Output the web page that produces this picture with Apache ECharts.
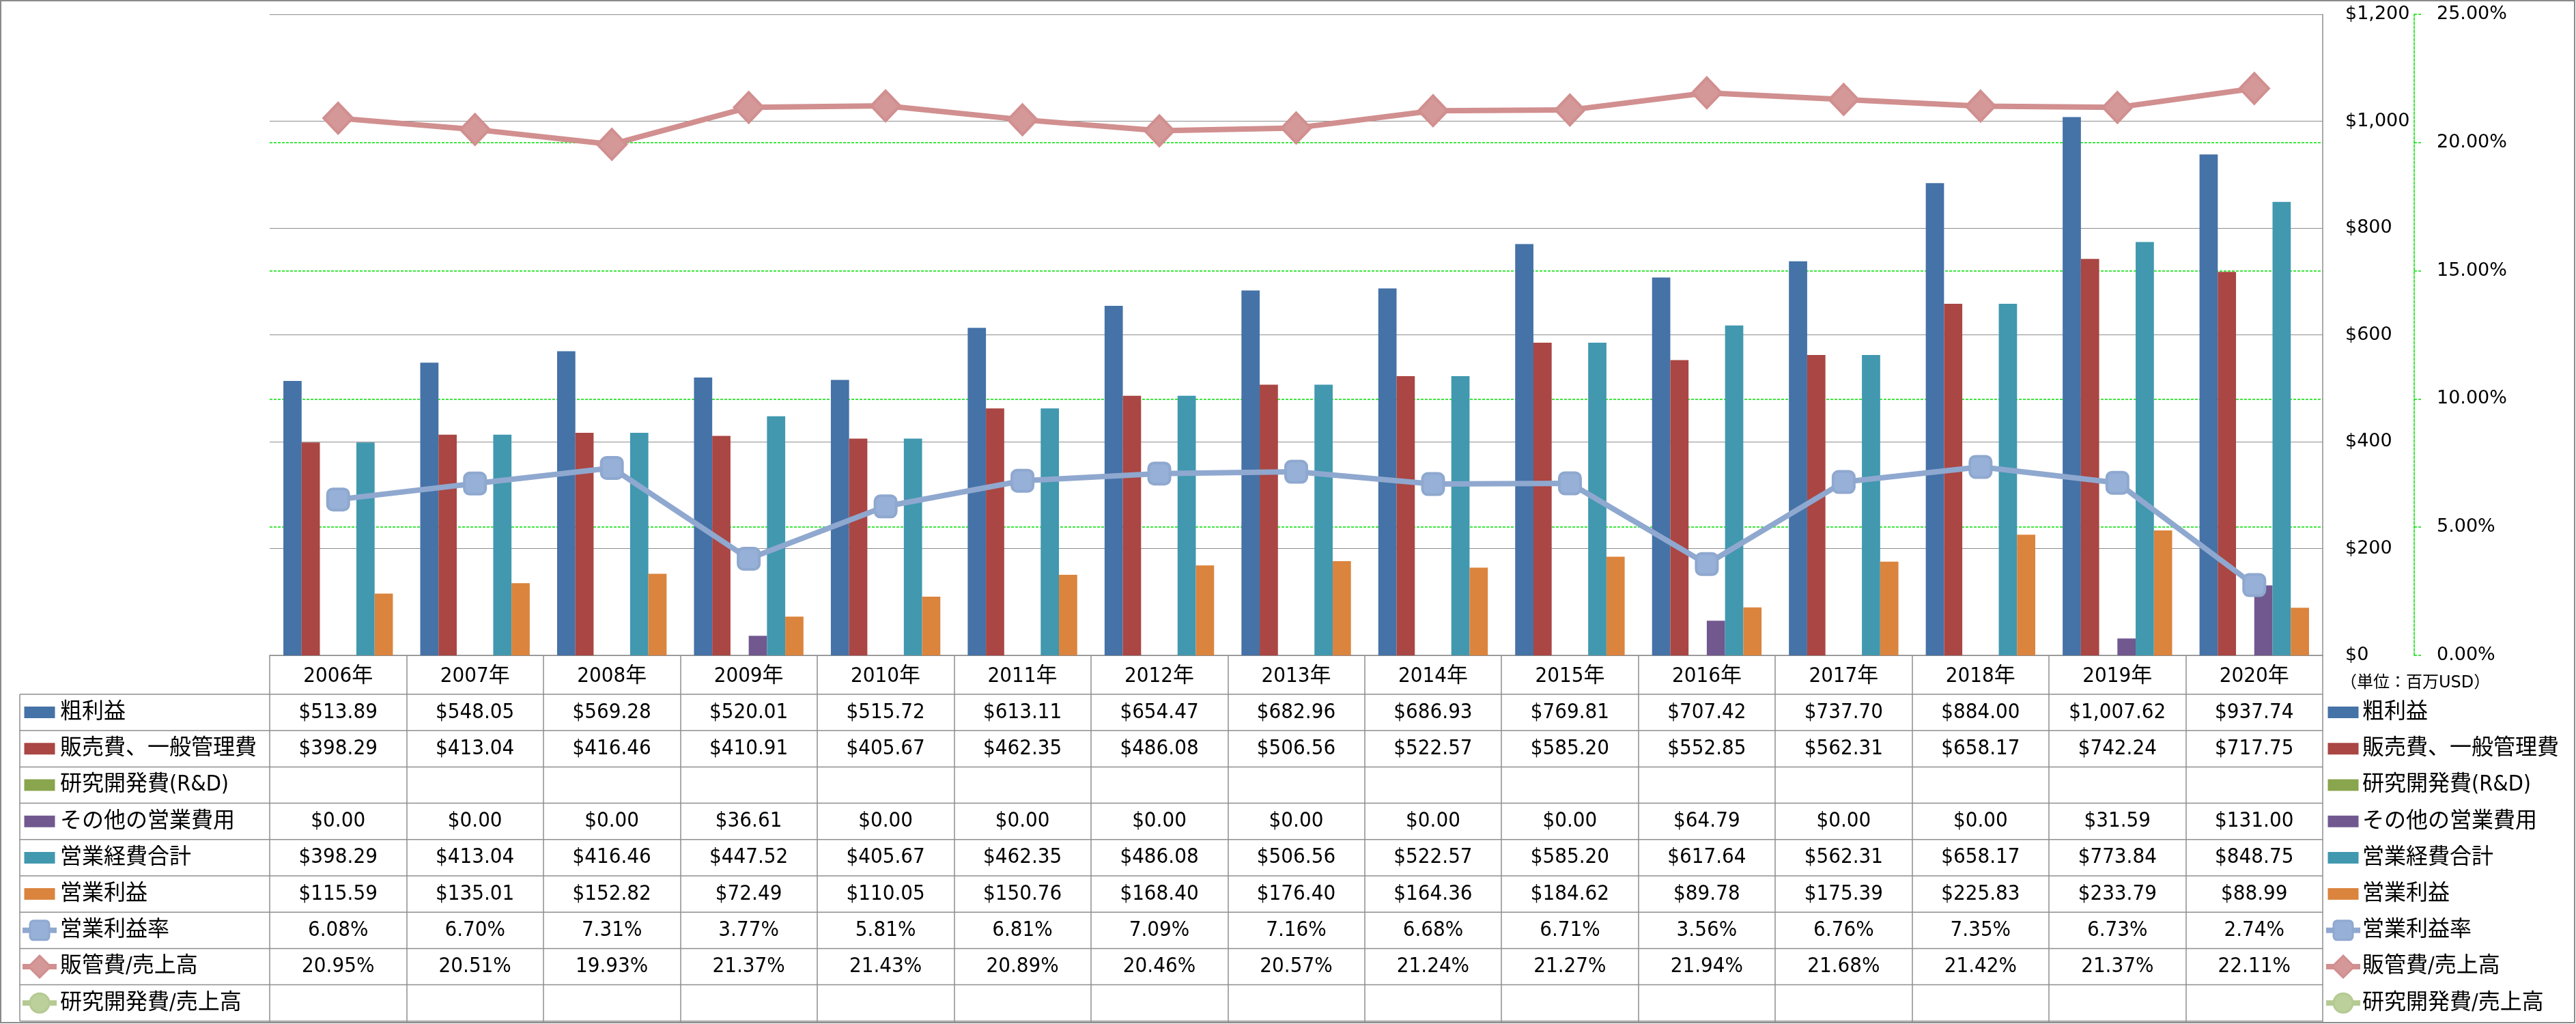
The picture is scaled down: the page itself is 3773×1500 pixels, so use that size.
<!DOCTYPE html>
<html><head><meta charset="utf-8">
<script src="https://cdn.jsdelivr.net/npm/echarts@6/dist/echarts.min.js"></script>
<style>html,body{margin:0;padding:0;background:#fff}#c{width:3773px;height:1500px}</style>
</head><body><div id="c"></div>
<script>
// ---------- data ----------
const categories = ['2006年','2007年','2008年','2009年','2010年','2011年','2012年','2013年','2014年','2015年','2016年','2017年','2018年','2019年','2020年'];
const grossProfit = [513.89,548.05,569.28,520.01,515.72,613.11,654.47,682.96,686.93,769.81,707.42,737.70,884.00,1007.62,937.74];
const sgaExpense = [398.29,413.04,416.46,410.91,405.67,462.35,486.08,506.56,522.57,585.20,552.85,562.31,658.17,742.24,717.75];
const rdExpense = [null,null,null,null,null,null,null,null,null,null,null,null,null,null,null];
const otherExpense = [0,0,0,36.61,0,0,0,0,0,0,64.79,0,0,31.59,131.00];
const totalOpex = [398.29,413.04,416.46,447.52,405.67,462.35,486.08,506.56,522.57,585.20,617.64,562.31,658.17,773.84,848.75];
const operatingIncome = [115.59,135.01,152.82,72.49,110.05,150.76,168.40,176.40,164.36,184.62,89.78,175.39,225.83,233.79,88.99];
const operatingMargin = [6.08,6.70,7.31,3.77,5.81,6.81,7.09,7.16,6.68,6.71,3.56,6.76,7.35,6.73,2.74];
const sgaRatio = [20.95,20.51,19.93,21.37,21.43,20.89,20.46,20.57,21.24,21.27,21.94,21.68,21.42,21.37,22.11];
const rdRatio = [null,null,null,null,null,null,null,null,null,null,null,null,null,null,null];
const seriesNames = ['粗利益','販売費、一般管理費','研究開発費(R&D)','その他の営業費用','営業経費合計','営業利益','営業利益率','販管費/売上高','研究開発費/売上高'];
const usdTicks = [0,200,400,600,800,1000,1200];
const pctTicks = [0,5,10,15,20,25];
const unitLabel = '（単位：百万USD）';

// ---------- styling ----------
const colors = ['#4572A7','#AA4643','#89A54E','#71588F','#4198AF','#DB843D','#92A8CD','#D39493','#B5CA92'];
const lineColors = {6:'#8FA8CF',7:'#D18F8F',8:'#B5CA92'};
const markerFill = {6:'#97B0D7',7:'#D49898',8:'#BCD09C'};
const gridCol = '#8E8E8E';
const green = '#00E000';
const axisFont = "'DejaVu Sans', 'Noto Sans CJK JP', sans-serif";
const tableFont = "'DejaVu Sans Condensed', 'Noto Sans CJK JP', sans-serif";
const G = {left:395, right:371, top:21, bottom:540};
const headerH = 57, rowH = 53.2;

const barData = [grossProfit, sgaExpense, rdExpense, otherExpense, totalOpex, operatingIncome];
const lineData = [operatingMargin, sgaRatio, rdRatio];
const symbols = ['roundRect','diamond','circle'];
const symbolSizes = [31,[42,44],30];

const fmtUsd = v => '$' + v.toLocaleString('en-US',{minimumFractionDigits:2, maximumFractionDigits:2});
const fmtPct = v => v.toFixed(2) + '%';

// yAxis 0 = percent, yAxis 1 = USD
const series = [];
barData.forEach((d,i)=>{
  series.push({name:seriesNames[i], type:'bar', data:d, barGap:'0%', barCategoryGap:'20%',
    itemStyle:{color:colors[i]}, yAxisIndex:1, z:2});
});
lineData.forEach((d,j)=>{
  const i = 6+j;
  series.push({name:seriesNames[i], type:'line', data:d, yAxisIndex:0, z:5,
    symbol:symbols[j], symbolSize:symbolSizes[j],
    lineStyle:{color:lineColors[i], width:8},
    itemStyle:{color:markerFill[i], borderColor:lineColors[i], borderWidth:4}});
});

const chart = echarts.init(document.getElementById('c'), null, {renderer:'canvas'});
chart.setOption({
  animation:false,
  backgroundColor:'#fff',
  grid:{left:G.left, right:G.right, top:G.top, bottom:G.bottom, containLabel:false},
  xAxis:{type:'category', data:categories,
    axisLine:{show:true, lineStyle:{color:gridCol, width:1.5}},
    axisTick:{show:true, interval:0, length:1497-(1500-G.bottom), lineStyle:{color:gridCol, width:1.5}},
    axisLabel:{interval:0, margin:15, fontSize:31, fontFamily:tableFont, color:'#000', lineHeight:31},
    splitLine:{show:false}},
  yAxis:[
    {type:'value', position:'right', offset:134, min:pctTicks[0], max:pctTicks[pctTicks.length-1], interval:pctTicks[1]-pctTicks[0],
     axisLine:{show:true, lineStyle:{color:green, width:1.5, type:[4,2]}},
     axisTick:{show:true, length:12, lineStyle:{color:green, width:1.5, type:[4,2]}},
     axisLabel:{margin:33, fontSize:27, fontFamily:axisFont, color:'#000', formatter:v=>v.toFixed(2)+'%'},
     splitLine:{show:true, showMinLine:false, showMaxLine:false, lineStyle:{color:green, width:1.5, type:[4,2]}}},
    {type:'value', position:'right', min:usdTicks[0], max:usdTicks[usdTicks.length-1], interval:usdTicks[1]-usdTicks[0],
     axisLine:{show:true, lineStyle:{color:gridCol, width:1.5}}, axisTick:{show:false},
     axisLabel:{margin:33, fontSize:27, fontFamily:axisFont, color:'#000', formatter:v=>'$'+v.toLocaleString('en-US')},
     splitLine:{show:true, lineStyle:{color:gridCol, width:1.2}}}
  ],
  series:series
});

// ---------- data table + legend (graphic) ----------
const px = i => chart.convertToPixel({xAxisIndex:0}, i);
const plotBottom = 1500 - G.bottom;
const plotRight = 3773 - G.right;
const tableTop = plotBottom + headerH;
const tableBottom = tableTop + rowH*seriesNames.length;
const els = [];
els.push({type:'rect', shape:{x:1,y:1,width:3770,height:1497}, style:{fill:null, stroke:'#8A8A8A', lineWidth:2}, z:100});
for (let k=0;k<=seriesNames.length;k++){
  const y = tableTop + rowH*k;
  els.push({type:'line', shape:{x1:29,y1:y,x2:plotRight,y2:y}, style:{stroke:gridCol, lineWidth:1.5}});
}
els.push({type:'line', shape:{x1:29,y1:tableTop,x2:29,y2:tableBottom}, style:{stroke:gridCol, lineWidth:1.5}});

function key(cx, cy, i){
  if (i < 6){
    els.push({type:'rect', shape:{x:cx-22.5, y:cy-8.5, width:45, height:17}, style:{fill:colors[i]}});
  } else {
    const c = lineColors[i], f = markerFill[i];
    els.push({type:'line', shape:{x1:cx-25,y1:cy,x2:cx+25,y2:cy}, style:{stroke:c, lineWidth:8}});
    const s = 28;
    if (i===6) els.push({type:'rect', shape:{x:cx-s/2,y:cy-s/2,width:s,height:s,r:5}, style:{fill:f, stroke:c, lineWidth:3}});
    else if (i===7) els.push({type:'polygon', shape:{points:[[cx,cy-16],[cx+16,cy],[cx,cy+16],[cx-16,cy]]}, style:{fill:f, stroke:c, lineWidth:3}});
    else els.push({type:'circle', shape:{cx:cx,cy:cy,r:14}, style:{fill:f, stroke:c, lineWidth:3}});
  }
}
const allData = barData.concat(lineData);
seriesNames.forEach((name,r)=>{
  const cy = tableTop + rowH*(r+0.5);
  key(58, cy, r);
  els.push({type:'text', x:88, y:cy, style:{text:name, font:'32px '+tableFont, fill:'#000', align:'left', verticalAlign:'middle'}});
  key(3432, cy, r);
  els.push({type:'text', x:3460, y:cy, style:{text:name, font:'32px '+tableFont, fill:'#000', align:'left', verticalAlign:'middle'}});
  const d = allData[r];
  categories.forEach((c,i)=>{
    const v = d[i];
    if (v === null || v === undefined) return;
    const t = r < 6 ? fmtUsd(v) : fmtPct(v);
    els.push({type:'text', x:px(i), y:cy, style:{text:t, font:'31px '+tableFont, fill:'#000', align:'center', verticalAlign:'middle'}});
  });
});
els.push({type:'text', x:3428, y:1001, style:{text:unitLabel, font:'24px '+axisFont, fill:'#000', align:'left', verticalAlign:'middle'}});
chart.setOption({graphic:{elements:els}});
</script></body></html>
